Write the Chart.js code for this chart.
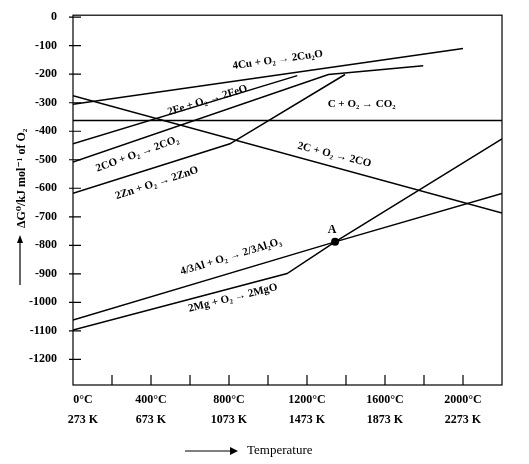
<!DOCTYPE html>
<html><head><meta charset="utf-8">
<script src="https://cdn.jsdelivr.net/npm/chart.js@4"></script>
<style>html,body{margin:0;padding:0;background:#fff}#w{width:529px;height:464px}</style>
</head><body><div id="w"><canvas id="c"></canvas></div>
<script>
const cuT=[0,2000], cuG=[-305,-110];
const feT=[0,1150], feG=[-444,-205];
const coT=[0,1310,1796], coG=[-508,-201,-170];
const znT=[0,805,1395], znG=[-618,-444,-201];
const c2coT=[0,2200], c2coG=[-275,-687];
const cco2T=[-10,2200], cco2G=[-362,-362];
const alT=[0,1344,2200], alG=[-1062,-788,-618];
const mgT=[0,1098,1344,2200], mgG=[-1097,-899,-788,-427];
const pointA=[1344,-788];
const yTicks=[0,-100,-200,-300,-400,-500,-600,-700,-800,-900,-1000,-1100,-1200];
const xTickVals=[0,400,800,1200,1600,2000];
const xLabelsC=['0°C','400°C','800°C','1200°C','1600°C','2000°C'];
const xLabelsK=['273 K','673 K','1073 K','1473 K','1873 K','2273 K'];
const labels=[
 ['4Cu + O₂ → 2Cu₂O',1050,-150,-8],
 ['2Fe + O₂ → 2FeO',690,-292,-17],
 ['C + O₂ → CO₂',1480,-305,0],
 ['2CO + O₂ → 2CO₂',330,-480,-20],
 ['2C + O₂ → 2CO',1340,-483,14],
 ['2Zn + O₂ → 2ZnO',430,-582,-18],
 ['4/3Al + O₂ → 2/3Al₂O₃',810,-840,-17],
 ['2Mg + O₂ → 2MgO',820,-985,-14]
];
const pts=(t,g)=>t.map((v,i)=>({x:v,y:g[i]}));
const ds=(t,g)=>({data:pts(t,g),borderColor:'#000',borderWidth:1.5,pointRadius:0,fill:false,tension:0});
const FONT='"Liberation Serif","DejaVu Serif",serif';
const deco={id:'deco',afterDraw(ch){
 const c=ch.ctx,x=ch.scales.x,y=ch.scales.y,a=ch.chartArea;
 c.save();c.strokeStyle='#000';c.lineWidth=1.2;
 c.strokeRect(a.left,a.top,a.right-a.left,a.bottom-a.top);
 c.beginPath();
 for(let t=200;t<=2000;t+=200){const px=x.getPixelForValue(t);c.moveTo(px,a.bottom);c.lineTo(px,a.bottom-10);}
 yTicks.forEach(v=>{const py=y.getPixelForValue(v);c.moveTo(a.left-4,py);c.lineTo(a.left+8,py);});
 c.stroke();
 c.fillStyle='#000';c.font='bold 11px '+FONT;c.textAlign='center';c.textBaseline='middle';
 labels.forEach(([s,t,g,r])=>{c.save();c.translate(x.getPixelForValue(t),y.getPixelForValue(g));c.rotate(r*Math.PI/180);c.fillText(s,0,0);c.restore();});
 c.font='bold 12px '+FONT;
 xTickVals.forEach((v,i)=>{const px=x.getPixelForValue(v)+(i===0?10:0);c.fillText(xLabelsC[i],px,400);c.fillText(xLabelsK[i],px,420);});
 c.fillText('A',x.getPixelForValue(pointA[0])-3,y.getPixelForValue(pointA[1])-12);
 c.beginPath();c.arc(x.getPixelForValue(pointA[0]),y.getPixelForValue(pointA[1]),4,0,Math.PI*2);c.fill();
 c.font='13px '+FONT;c.textAlign='left';c.fillText('Temperature',247,451);
 c.beginPath();c.moveTo(185,451);c.lineTo(233,451);c.stroke();
 c.beginPath();c.moveTo(238,451);c.lineTo(230,447);c.lineTo(230,455);c.closePath();c.fill();
 c.save();c.translate(22,228);c.rotate(-Math.PI/2);c.font='bold 12px '+FONT;c.textAlign='left';
 c.fillText('ΔG⁰/kJ mol⁻¹ of O₂',0,0);c.restore();
 c.beginPath();c.moveTo(20,285);c.lineTo(20,240);c.stroke();
 c.beginPath();c.moveTo(20,235);c.lineTo(17,243);c.lineTo(23,243);c.closePath();c.fill();
 c.restore();}};
new Chart(document.getElementById('c'),{type:'line',
 data:{datasets:[ds(cuT,cuG),ds(feT,feG),ds(coT,coG),ds(znT,znG),ds(c2coT,c2coG),ds(cco2T,cco2G),ds(alT,alG),ds(mgT,mgG)]},
 options:{responsive:true,maintainAspectRatio:false,animation:false,
  layout:{padding:{top:12,right:27,left:0,bottom:0}},
  plugins:{legend:{display:false},tooltip:{enabled:false}},
  scales:{
   x:{type:'linear',min:0,max:2200,grid:{display:false},border:{display:false},
      afterFit(s){s.height=79;},ticks:{display:false}},
   y:{type:'linear',min:-1290,max:7,grid:{display:false},border:{display:false},
      afterFit(s){s.width=73;},
      afterBuildTicks(s){s.ticks=yTicks.map(v=>({value:v}));},
      ticks:{autoSkip:false,padding:8,color:'#000',font:{family:FONT,size:12,weight:'bold'},callback:v=>String(v)}}
  }},plugins:[deco]});
</script></body></html>
